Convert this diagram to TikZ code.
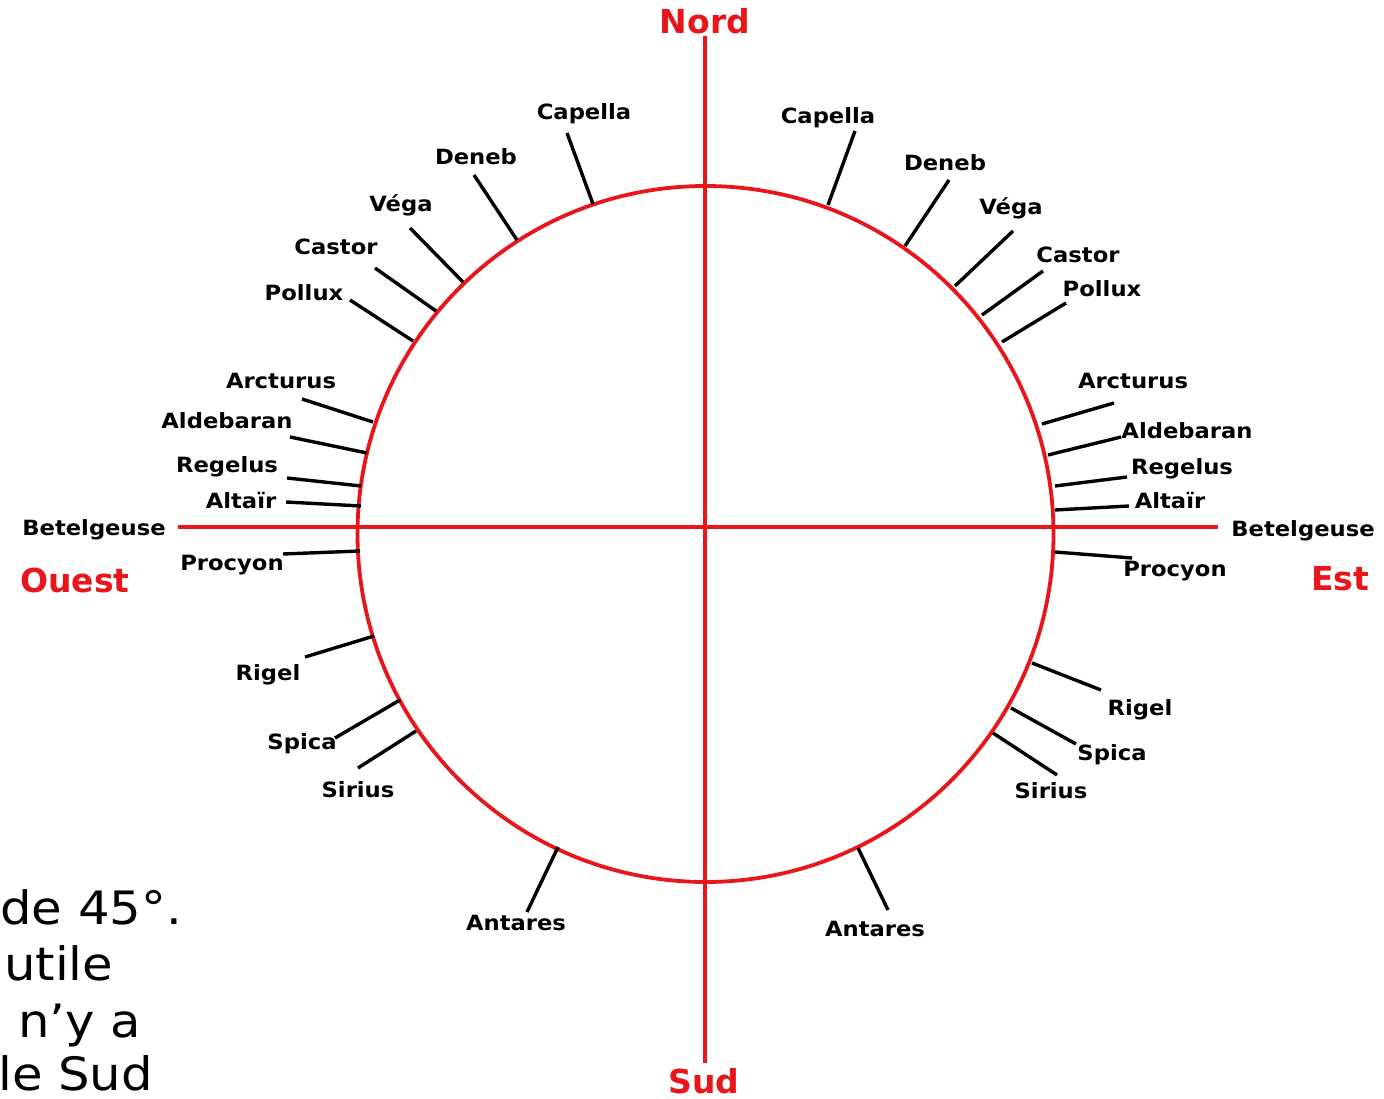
\documentclass[tikz,border=0pt]{standalone}
\usepackage{fontspec}
\setmainfont{DejaVu Sans}
\newfontfamily\widefont[FakeStretch=1.08]{DejaVu Sans}
\definecolor{cred}{RGB}{232,22,26}
\begin{document}
\begin{tikzpicture}[x=1pt,y=-1pt,
  lbl/.style={font=\widefont\bfseries\fontsize{21}{21}\selectfont, inner sep=0},
  dirlbl/.style={font=\bfseries\fontsize{33}{33}\selectfont, text=cred, inner sep=0},
  tick/.style={line width=3.4pt, draw=black},
  axis/.style={line width=3.8pt, draw=cred},
  body/.style={font=\widefont\fontsize{46}{46}\selectfont, inner sep=0, anchor=base west}]
\useasboundingbox (0,0) rectangle (1384,1099);
\fill[white] (0,0) rectangle (1384,1099);

% ring
\node[circle, draw=cred, line width=3.8pt, minimum size=696pt, inner sep=0] (ring) at (705.5,534) {};

% axes
\coordinate (N) at (705,36);
\coordinate (S) at (705,1063);
\coordinate (W) at (178,527);
\coordinate (E) at (1218,527);
\draw[axis] (N) -- (S);
\draw[axis] (W) -- (E);

% ticks: name / outer x,y / inner x,y
\foreach \n/\ax/\ay/\bx/\by in {
  lcap/567/133/593/204, ldeneb/474/175/517/240, lvega/410/228/463/282,
  lcastor/375/268/436/311, lpollux/350/300/413/341, larct/302/399/373/422,
  lalde/290/437/367/453, lreg/287/478/361/486, lalt/286/502/361/506,
  lproc/283/554/360/551, lrigel/305/657/374/636, lspica/335/738/400/700,
  lsirius/358/768/416/731, lant/527/912/558/847,
  rcap/855/131/828/205, rdeneb/949/180/905/246, rvega/1013/231/955/286,
  rcastor/1043/271/982/315, rpollux/1066/303/1002/342, rarct/1114/403/1042/424,
  ralde/1121/437/1048/455, rreg/1127/477/1055/486, ralt/1129/506/1055/510,
  rproc/1132/558/1055/552, rrigel/1101/690/1032/663, rspica/1076/744/1011/708,
  rsirius/1057/775/993/733, rant/888/910/858/848}
{
  \coordinate (\n-o) at (\ax,\ay);
  \coordinate (\n-i) at (\bx,\by);
  \draw[tick] (\n-o) -- (\n-i);
}

% star labels
\foreach \n/\x/\y/\t in {
  tlcap/584/114/Capella, tldeneb/476/157/Deneb, tlvega/401/205/Véga,
  tlcastor/336/247/Castor, tlpollux/304/293/Pollux, tlarct/281/381/Arcturus,
  tlalde/227/421/Aldebaran, tlreg/227/467/Regelus, tlalt/241/501/Altaïr,
  tlbet/94/530/Betelgeuse, tlproc/232/565/Procyon, tlrigel/268/675/Rigel,
  tlspica/302/744/Spica, tlsirius/358/790/Sirius, tlant/516/923/Antares,
  trcap/828/118/Capella, trdeneb/945/163/Deneb, trvega/1011/208/Véga,
  trcastor/1078/255/Castor, trpollux/1102/289/Pollux, trarct/1133/381/Arcturus,
  tralde/1187/431/Aldebaran, trreg/1182/469/Regelus, tralt/1170/501/Altaïr,
  trbet/1303/531/Betelgeuse, trproc/1175/571/Procyon, trrigel/1140/710/Rigel,
  trspica/1112/755/Spica, trsirius/1051/791/Sirius, trant/875/929/Antares}
{
  \node[lbl] (\n) at (\x,\y) {\t};
}

% cardinal labels
\node[dirlbl] (nord) at (705,21) {Nord};
\node[dirlbl] (sud) at (704,1081) {Sud};
\node[dirlbl] (ouest) at (75,580) {Ouest};
\node[dirlbl] (est) at (1340,579) {Est};

% stray paragraph text at bottom left
\node[body] (t1) at (0,924) {de 45°.};
\node[body] (t2) at (4,980) {utile};
\node[body] (t3) at (18,1037) {n’y a};
\node[body] (t4) at (-2,1090) {le Sud};
\end{tikzpicture}
\end{document}
